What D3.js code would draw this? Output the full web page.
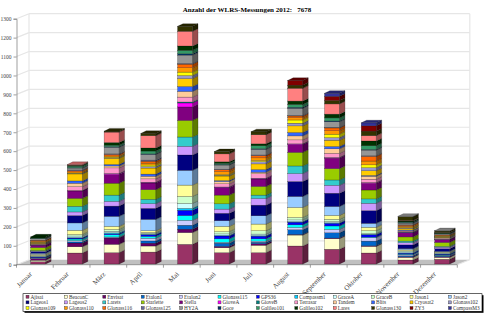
<!DOCTYPE html>
<html>
<head>
    <title>WLRS-Messungen 2012</title>
    <style type="text/css">
        body { margin: 0; background: #fff; }
        svg text { font-family: "Liberation Serif", serif; }
    </style>
</head>
<body>
    <script src="https://d3js.org/d3.v7.min.js" type="text/javascript"></script>
    <script type="text/javascript">
        var months = ['Januar', 'Februar', 'März', 'April', 'Mai', 'Juni', 'Juli', 'August', 'September', 'Oktober', 'November', 'Dezember'];
        var yTicks = [0, 100, 200, 300, 400, 500, 600, 700, 800, 900, 1000, 1100, 1200, 1300];
        var legendNames = ['Ajisai', 'BeaconC', 'Envisat', 'Etalon1', 'Etalon2', 'Glonass115', 'GPS36', 'Compassm1', 'GraceA', 'GraceB', 'Jason1', 'Jason2',
            'Lageos1', 'Lageos2', 'Larets', 'Starlette', 'Stella', 'GioveA', 'GioveB', 'Terrasar', 'Tandem', 'Blits', 'Cryosat2', 'Glonass102',
            'Glonass109', 'Glonass110', 'Glonass116', 'Glonass125', 'HY2A', 'Goce', 'Galileo101', 'Galileo102', 'Lares', 'Glonass130', 'ZY3', 'CompassM3'];
        // last colour is the thin grey top on Nov/Dec, it has no legend entry
        var colors = ['#993366', '#ffffcc', '#660066', '#0066cc', '#ccccff', '#00ffff', '#0000ff', '#00ccff', '#ccffff', '#ccffcc', '#ffff99', '#99ccff',
            '#000080', '#cc99ff', '#33cccc', '#99cc00', '#800080', '#ff00ff', '#008080', '#ff99cc', '#ffcc99', '#3366ff', '#ffcc00', '#9999cc',
            '#ffff00', '#ff9900', '#ff6600', '#666699', '#969696', '#003366', '#339966', '#003300', '#ff8080', '#333300', '#800000', '#333399', '#a6a6a6'];

        var januar = [12, 8, 8, 2, 2, 2, 3, 1, 4, 3, 6, 6, 8, 3, 3, 16, 12, 1, 1, 3, 2, 2, 3, 2, 2, 5, 5, 1, 8, 1, 2, 6, 0, 0, 0, 0, 0];
        var februar = [58, 33, 20, 6, 7, 8, 5, 3, 8, 8, 22, 39, 39, 19, 30, 42, 39, 1, 1, 21, 18, 12, 37, 3, 2, 6, 6, 4, 10, 2, 8, 5, 4, 0, 0, 0, 0];
        var maerz = [60, 44, 33, 3, 3, 12, 5, 5, 8, 10, 16, 53, 54, 25, 33, 63, 46, 4, 1, 30, 10, 8, 33, 3, 3, 6, 8, 3, 35, 3, 8, 14, 55, 5, 0, 0, 0];
        var april = [63, 32, 15, 12, 14, 10, 8, 3, 5, 5, 9, 60, 58, 25, 23, 51, 35, 3, 1, 18, 14, 11, 32, 8, 8, 10, 10, 6, 30, 3, 15, 16, 65, 12, 0, 0, 0];
        var mai = [104, 62, 18, 21, 26, 25, 28, 10, 26, 37, 60, 78, 81, 46, 49, 88, 71, 21, 5, 26, 30, 26, 42, 16, 18, 23, 19, 4, 44, 7, 18, 23, 78, 26, 0, 0, 0];
        var juni = [60, 26, 7, 17, 5, 18, 15, 3, 8, 12, 28, 30, 39, 22, 28, 46, 39, 3, 1, 17, 12, 5, 24, 4, 4, 16, 9, 3, 22, 3, 6, 8, 42, 12, 0, 0, 0];
        var juli = [60, 39, 8, 8, 6, 12, 14, 3, 8, 18, 35, 44, 56, 35, 18, 46, 39, 3, 1, 24, 8, 14, 30, 12, 6, 14, 12, 3, 30, 3, 16, 10, 48, 16, 0, 0, 0];
        var august = [95, 58, 3, 25, 12, 14, 14, 3, 9, 13, 53, 58, 79, 42, 40, 72, 41, 3, 1, 21, 21, 18, 35, 14, 17, 12, 9, 3, 38, 5, 15, 18, 68, 16, 25, 0, 0];
        var september = [78, 56, 3, 28, 18, 18, 14, 3, 6, 12, 21, 47, 70, 42, 28, 60, 55, 3, 1, 22, 24, 12, 33, 14, 18, 18, 15, 3, 30, 4, 16, 20, 54, 18, 22, 16, 0];
        var oktober = [58, 35, 3, 25, 18, 3, 12, 3, 4, 15, 18, 21, 67, 39, 23, 47, 35, 3, 1, 18, 16, 4, 25, 16, 15, 20, 25, 3, 30, 3, 20, 25, 28, 24, 28, 16, 0];
        var november = [21, 14, 3, 6, 5, 3, 5, 3, 5, 5, 5, 6, 20, 12, 8, 22, 22, 2, 2, 4, 4, 3, 7, 3, 3, 6, 6, 3, 8, 3, 3, 5, 3, 20, 0, 0, 2];
        var dezember = [25, 10, 4, 4, 3, 2, 4, 2, 3, 3, 3, 4, 14, 8, 4, 21, 15, 1, 1, 4, 3, 2, 3, 2, 2, 3, 3, 1, 5, 1, 2, 3, 1, 8, 0, 0, 2];
        var monthValues = [januar, februar, maerz, april, mai, juni, juli, august, september, oktober, november, dezember];

        var wallDx = 12.5, wallDy = 5;  // depth of the chart box
        var barDx = 5.4, barDy = 2.6;   // depth of one bar
        var barShift = 3.3;

        var svg = d3.select('body').append('svg')
            .attr('width', 485)
            .attr('height', 313)
            .style('display', 'block');

        var x = d3.scaleBand().domain(months).range([16.5, 457.3]).paddingInner(0.59).paddingOuter(0.295);
        var y = d3.scaleLinear().domain([0, 1300]).range([264.7, 18.7]);

        // floor
        svg.append('polygon')
            .attr('fill', '#c0c0c0')
            .attr('points', [[16.5, y(0)], [16.5 + wallDx, y(0) - wallDy], [457.3 + wallDx, y(0) - wallDy], [457.3, y(0)]].join(' '));

        // walls with grid lines
        var grid = svg.append('g')
            .attr('fill', 'none')
            .attr('stroke', '#e6e6e6')
            .attr('stroke-width', 1.2);
        grid.selectAll('.back').data(yTicks.slice(1)).enter().append('line')
            .attr('x1', 16.5 + wallDx).attr('x2', 457.3 + wallDx)
            .attr('y1', function (d) { return y(d) - wallDy; })
            .attr('y2', function (d) { return y(d) - wallDy; });
        grid.selectAll('.side').data(yTicks).enter().append('line')
            .attr('x1', 16.5).attr('x2', 16.5 + wallDx)
            .attr('y1', function (d) { return y(d); })
            .attr('y2', function (d) { return y(d) - wallDy; });
        grid.append('line')
            .attr('x1', 16.5 + wallDx).attr('x2', 16.5 + wallDx)
            .attr('y1', y(1300) - wallDy).attr('y2', y(0) - wallDy);
        grid.append('line')
            .attr('x1', 457.3 + wallDx).attr('x2', 457.3 + wallDx)
            .attr('y1', y(1300) - wallDy).attr('y2', y(0) - wallDy);
        grid.append('line')
            .attr('x1', 457.3).attr('x2', 457.3 + wallDx)
            .attr('y1', y(0)).attr('y2', y(0) - wallDy);

        // y axis
        var yAxis = svg.append('g')
            .attr('transform', 'translate(16.5,0)')
            .call(d3.axisLeft(y).tickValues(yTicks).tickFormat(d3.format('d')).tickSize(3).tickPadding(2));
        yAxis.selectAll('text').attr('font-size', 5.5).attr('fill', '#444').style('font-family', '"Liberation Serif", serif');
        yAxis.selectAll('line,path').attr('stroke', '#777').attr('stroke-width', 0.7);

        // x axis: ticks sit between the months
        var xTick = d3.scaleLinear().domain([0, 12]).range([16.5, 457.3]);
        var xAxis = svg.append('g')
            .attr('transform', 'translate(0,' + y(0) + ')');
        xAxis.append('line')
            .attr('x1', 16.5).attr('x2', 457.3)
            .attr('stroke', '#777').attr('stroke-width', 0.7);
        xAxis.selectAll('.tick').data(d3.range(13)).enter().append('line')
            .attr('x1', function (d) { return xTick(d); })
            .attr('x2', function (d) { return xTick(d); })
            .attr('y1', 0).attr('y2', 3)
            .attr('stroke', '#777').attr('stroke-width', 0.7);
        xAxis.selectAll('text').data(months).enter().append('text')
            .text(function (d) { return d; })
            .attr('text-anchor', 'end')
            .attr('font-size', 7)
            .attr('fill', '#444')
            .attr('transform', function (d) {
                return 'translate(' + (x(d) + x.bandwidth() / 2 - 2.5) + ',10) rotate(-45)';
            });

        // stacked bars
        var table = months.map(function (m, i) {
            var row = { month: m };
            colors.forEach(function (c, s) { row[s] = monthValues[i][s]; });
            return row;
        });
        var stack = d3.stack().keys(d3.range(colors.length));
        var layers = stack(table);

        var bars = svg.append('g').attr('transform', 'translate(' + barShift + ',-0.7)');
        layers.forEach(function (layer, s) {
            var c = d3.color(colors[s]);
            var g = bars.append('g');
            var parts = g.selectAll('g').data(layer.filter(function (d) { return d[1] > d[0]; })).enter().append('g');
            var w = x.bandwidth();

            parts.append('rect')
                .attr('x', function (d) { return x(d.data.month); })
                .attr('y', function (d) { return y(d[1]); })
                .attr('width', w)
                .attr('height', function (d) { return y(d[0]) - y(d[1]); })
                .attr('fill', colors[s])
                .attr('stroke', '#000')
                .attr('stroke-opacity', 0.55)
                .attr('stroke-width', 0.4);
            parts.append('polygon')
                .attr('fill', d3.rgb(c.r * 0.6, c.g * 0.6, c.b * 0.6))
                .attr('stroke', '#000')
                .attr('stroke-opacity', 0.55)
                .attr('stroke-width', 0.4)
                .attr('points', function (d) {
                    var x1 = x(d.data.month) + w;
                    return [[x1, y(d[1])], [x1 + barDx, y(d[1]) - barDy], [x1 + barDx, y(d[0]) - barDy], [x1, y(d[0])]].join(' ');
                });
            // top face only where nothing else is stacked above
            parts.filter(function (d) { return d3.sum(monthValues[months.indexOf(d.data.month)].slice(s + 1)) === 0; })
                .append('polygon')
                .attr('fill', d3.rgb(c.r * 0.75, c.g * 0.75, c.b * 0.75))
                .attr('stroke', '#000')
                .attr('stroke-opacity', 0.55)
                .attr('stroke-width', 0.4)
                .attr('points', function (d) {
                    var x0 = x(d.data.month);
                    return [[x0, y(d[1])], [x0 + barDx, y(d[1]) - barDy], [x0 + w + barDx, y(d[1]) - barDy], [x0 + w, y(d[1])]].join(' ');
                });
        });

        // title
        svg.append('text')
            .attr('x', 247)
            .attr('y', 12)
            .attr('text-anchor', 'middle')
            .attr('font-size', 7)
            .attr('font-weight', 'bold')
            .style('white-space', 'pre')
            .text('Anzahl der WLRS-Messungen 2012:   7678');

        // legend box with shadow
        svg.append('rect').attr('x', 24.5).attr('y', 295.2).attr('width', 459).attr('height', 17.6).attr('fill', '#000');
        svg.append('rect').attr('x', 23).attr('y', 293.7).attr('width', 459).attr('height', 17.6)
            .attr('fill', '#fff').attr('stroke', '#000').attr('stroke-width', 0.6);
        var legendCol = d3.scaleLinear().domain([0, 12]).range([26, 486.8]);
        var legendRow = d3.scaleLinear().domain([0, 3]).range([296.7, 313.7]);
        var items = svg.append('g').selectAll('g').data(legendNames).enter().append('g')
            .attr('transform', function (d, i) {
                return 'translate(' + legendCol(i % 12) + ',' + legendRow(Math.floor(i / 12)) + ')';
            });
        items.append('rect')
            .attr('x', 0).attr('y', -1.5).attr('width', 3).attr('height', 3)
            .attr('fill', function (d, i) { return colors[i]; })
            .attr('stroke', '#333').attr('stroke-width', 0.4);
        items.append('text')
            .attr('x', 4.5).attr('y', 1.8)
            .attr('font-size', 5.3)
            .attr('fill', '#333')
            .text(function (d) { return d; });
    </script>
</body>
</html>
